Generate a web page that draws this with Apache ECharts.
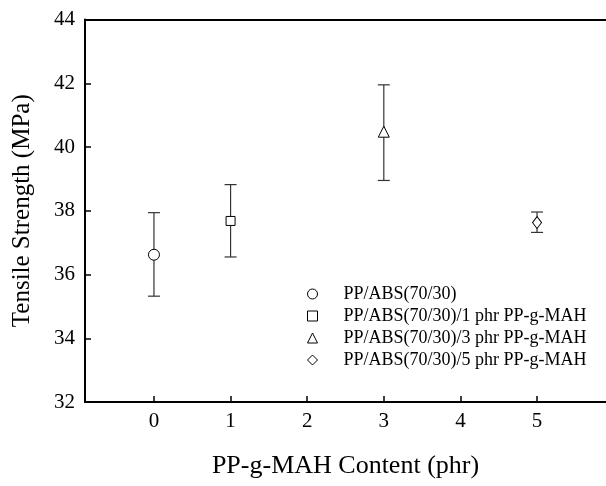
<!DOCTYPE html>
<html>
<head>
<meta charset="utf-8">
<script src="https://cdn.jsdelivr.net/npm/echarts@6/dist/echarts.min.js"></script>
<style>html,body{margin:0;padding:0;background:#fff}#c{width:606px;height:486px}</style>
</head>
<body>
<div id="c"></div>
<script>
var seriesNames = ['PP/ABS(70/30)', 'PP/ABS(70/30)/1 phr PP-g-MAH', 'PP/ABS(70/30)/3 phr PP-g-MAH', 'PP/ABS(70/30)/5 phr PP-g-MAH'];
var content = [0, 1, 3, 5];
var strength = [36.62, 37.68, 40.48, 37.63];
var upperErr = [37.94, 38.82, 41.95, 37.96];
var lowerErr = [35.32, 36.55, 38.95, 37.32];
var symbols = ['circle', 'rect', 'triangle', 'diamond'];
var symbolSizes = [11, 9, 11, [9, 12]];
var xTicks = [0, 1, 2, 3, 4, 5];
var yTicks = [32, 34, 36, 38, 40, 42, 44];

var font = 'Liberation Serif';
var series = [];
for (var i = 0; i < content.length; i++) {
  series.push({
    name: 'err' + i,
    type: 'custom',
    data: [[content[i], lowerErr[i], upperErr[i]]],
    z: 2,
    silent: true,
    renderItem: function (params, api) {
      var x = api.value(0);
      var lo = api.coord([x, api.value(1)]);
      var hi = api.coord([x, api.value(2)]);
      var hw = 6;
      var st = { stroke: '#333', lineWidth: 1.2 };
      return {
        type: 'group',
        children: [
          { type: 'line', shape: { x1: lo[0], y1: lo[1], x2: hi[0], y2: hi[1] }, style: st },
          { type: 'line', shape: { x1: lo[0] - hw, y1: lo[1], x2: lo[0] + hw, y2: lo[1] }, style: st },
          { type: 'line', shape: { x1: hi[0] - hw, y1: hi[1], x2: hi[0] + hw, y2: hi[1] }, style: st }
        ]
      };
    }
  });
  series.push({
    name: seriesNames[i],
    type: 'scatter',
    z: 5,
    symbol: symbols[i],
    symbolSize: symbolSizes[i],
    itemStyle: { color: '#fff', borderColor: '#000', borderWidth: 1, opacity: 1 },
    data: [[content[i], strength[i]]]
  });
}

var chart = echarts.init(document.getElementById('c'));
chart.setOption({
  animation: false,
  backgroundColor: '#fff',
  grid: { left: 85, right: -6, top: 19.5, bottom: 84 },
  legend: {
    data: seriesNames,
    orient: 'vertical',
    left: 302,
    top: 280,
    itemGap: 4,
    itemWidth: 10,
    itemHeight: 10,
    itemStyle: { borderWidth: 1 },
    textStyle: { fontFamily: font, fontSize: 18, color: '#000', padding: [0, 0, 0, 21] }
  },
  xAxis: [{
    type: 'value',
    min: -0.9,
    max: 5.9,
    name: 'PP-g-MAH Content (phr)',
    nameLocation: 'middle',
    nameGap: 51,
    nameTextStyle: { fontFamily: font, fontSize: 26, color: '#000' },
    axisLine: { onZero: false, lineStyle: { color: '#000', width: 2 } },
    axisTick: { inside: true, length: 6, customValues: xTicks, lineStyle: { color: '#000', width: 1.5 } },
    axisLabel: { customValues: xTicks, fontFamily: font, fontSize: 21, color: '#000', margin: 9 },
    splitLine: { show: false }
  }, {
    type: 'value', position: 'top', min: -0.9, max: 5.9,
    axisLine: { show: true, onZero: false, lineStyle: { color: '#000', width: 2 } },
    axisTick: { show: false }, axisLabel: { show: false }, splitLine: { show: false }
  }],
  yAxis: {
    type: 'value',
    min: 32,
    max: 44,
    interval: 2,
    name: 'Tensile Strength (MPa)',
    nameLocation: 'middle',
    nameGap: 50,
    nameTextStyle: { fontFamily: font, fontSize: 25, color: '#000' },
    axisLine: { show: true, onZero: false, lineStyle: { color: '#000', width: 2 } },
    axisTick: { show: true, inside: true, length: 6, lineStyle: { color: '#000', width: 1.5 } },
    axisLabel: { customValues: yTicks, fontFamily: font, fontSize: 21, color: '#000', margin: 10 },
    splitLine: { show: false }
  },
  series: series
});
</script>
</body>
</html>
